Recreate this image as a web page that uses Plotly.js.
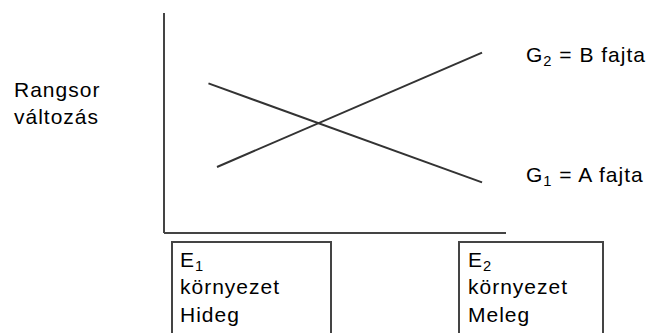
<!DOCTYPE html>
<html>
<head>
<meta charset="utf-8">
<script src="https://cdn.plot.ly/plotly-3.0.1.min.js"></script>
<style>
html,body{margin:0;padding:0;background:#fff;}
#chart{width:652px;height:333px;}
#chart .annotation-text{letter-spacing:1px;}
</style>
</head>
<body>
<div id="chart"></div>
<script>
// ---- data (rank scale 0-10, environment axis 0-10) ----
const seriesNames = ["G<sub>1</sub> = A fajta", "G<sub>2</sub> = B fajta"];
const g1X = [1.3, 9.3];
const g1Y = [6.8, 2.3];
const g2X = [1.55, 9.3];
const g2Y = [3.0, 8.2];
const yLabel = "Rangsor<br>változás";
const envLabels = ["E<sub>1</sub><br>környezet<br>Hideg", "E<sub>2</sub><br>környezet<br>Meleg"];

// ---- layout helpers (pixel -> paper) ----
const L = 164, R = 506, T = 13, B = 233;
const px = v => (v - L) / (R - L);
const py = v => (B - v) / (B - T);
const FONT = {family: "Liberation Sans, Arial, sans-serif", size: 21, color: "#000"};
const lineStyle = {color: "#333", width: 2};
const boxLine = {color: "#444", width: 2};

const traces = [
  {x: g1X, y: g1Y, mode: "lines", line: lineStyle, name: seriesNames[0], hoverinfo: "skip"},
  {x: g2X, y: g2Y, mode: "lines", line: lineStyle, name: seriesNames[1], hoverinfo: "skip"}
];

const layout = {
  width: 652, height: 333,
  margin: {l: L, r: 652 - R, t: T, b: 333 - B, pad: 0},
  paper_bgcolor: "#fff", plot_bgcolor: "#fff",
  showlegend: false,
  xaxis: {range: [0, 10], showgrid: false, zeroline: false, showticklabels: false, ticks: "",
          showline: false},
  yaxis: {range: [0, 10], showgrid: false, zeroline: false, showticklabels: false, ticks: "",
          showline: false},
  shapes: [
    {type: "line", xref: "paper", yref: "paper", x0: 0, x1: 0, y0: 0, y1: 1, line: boxLine},
    {type: "line", xref: "paper", yref: "paper", x0: 0, x1: 1, y0: 0, y1: 0, line: boxLine},
    {type: "rect", xref: "paper", yref: "paper", x0: px(172), x1: px(331), y0: py(242), y1: py(345), line: boxLine},
    {type: "rect", xref: "paper", yref: "paper", x0: px(459), x1: px(603), y0: py(242), y1: py(345), line: boxLine}
  ],
  annotations: [
    {xref: "paper", yref: "paper", x: px(12), y: py(76), xanchor: "left", yanchor: "top", align: "left",
     showarrow: false, text: yLabel, font: FONT},
    {xref: "paper", yref: "paper", x: px(524), y: py(56), xanchor: "left", yanchor: "middle", align: "left",
     showarrow: false, text: seriesNames[1], font: FONT},
    {xref: "paper", yref: "paper", x: px(524), y: py(176), xanchor: "left", yanchor: "middle", align: "left",
     showarrow: false, text: seriesNames[0], font: FONT},
    {xref: "paper", yref: "paper", x: px(178), y: py(246), xanchor: "left", yanchor: "top", align: "left",
     showarrow: false, text: envLabels[0], font: FONT},
    {xref: "paper", yref: "paper", x: px(466), y: py(246), xanchor: "left", yanchor: "top", align: "left",
     showarrow: false, text: envLabels[1], font: FONT}
  ]
};

Plotly.newPlot("chart", traces, layout, {staticPlot: true, displayModeBar: false});
</script>
</body>
</html>
